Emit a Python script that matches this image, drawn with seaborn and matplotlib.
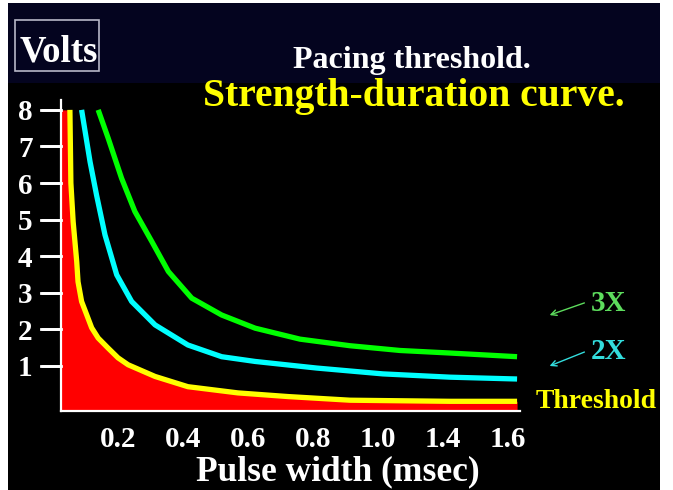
import numpy as np
import pandas as pd
import seaborn as sns
import matplotlib.pyplot as plt
from matplotlib.patches import Rectangle, FancyArrowPatch
from matplotlib.lines import Line2D
from matplotlib.transforms import blended_transform_factory

# strength-duration curves (pulse width on the chart's scale, volts)
threshold_x = [0.052, 0.055, 0.062, 0.073, 0.077, 0.088, 0.104, 0.119, 0.139, 0.169, 0.200, 0.231,
               0.314, 0.415, 0.569, 0.723, 0.914, 1.222, 1.428]
threshold_v = [8.0, 6.0, 4.94, 3.85, 3.30, 2.76, 2.39, 2.04, 1.76, 1.49, 1.22, 1.03,
               0.71, 0.43, 0.26, 0.16, 0.06, 0.03, 0.03]

twox_x = [0.088, 0.114, 0.134, 0.160, 0.196, 0.242, 0.314, 0.415, 0.519, 0.622, 0.811, 1.015, 1.222, 1.428]
twox_v = [8.0, 6.58, 5.67, 4.58, 3.49, 2.76, 2.12, 1.57, 1.25, 1.12, 0.94, 0.78, 0.69, 0.64]

threex_x = [0.139, 0.170, 0.211, 0.252, 0.304, 0.355, 0.427, 0.519, 0.622, 0.760, 0.914, 1.068, 1.222, 1.428]
threex_v = [8.0, 7.22, 6.13, 5.22, 4.40, 3.58, 2.85, 2.39, 2.03, 1.73, 1.55, 1.42, 1.35, 1.25]

x_ticks = [0.2, 0.4, 0.6, 0.8, 1.0, 1.2, 1.4]
x_labels = ['0.2', '0.4', '0.6', '0.8', '1.0', '1.4', '1.6']
y_ticks = [1, 2, 3, 4, 5, 6, 7, 8]

plt.rcParams['font.family'] = ['Liberation Serif', 'DejaVu Serif']
plt.rcParams['font.weight'] = 'bold'

W, H = 673, 490
def fx(px):
    return px / W
def fy(py):
    return 1 - py / H

fig = plt.figure(figsize=(W / 100, H / 100), dpi=100)
fig.patch.set_facecolor('white')

# slide background: black body, navy title band
fig.add_artist(Rectangle((fx(8), 0), fx(660) - fx(8), fy(3), transform=fig.transFigure,
                         facecolor='black', edgecolor='none', zorder=-2))
fig.add_artist(Rectangle((fx(8), fy(83)), fx(660) - fx(8), 80 / H, transform=fig.transFigure,
                         facecolor='#04041f', edgecolor='none', zorder=-1))

ax = fig.add_axes([fx(61), fy(411), fx(520) - fx(61), (411 - 100) / H])
ax.set_facecolor('none')

xmin, xmax = 0.0246, 1.437
ymin, ymax = -0.235, 8.27

# red area under the threshold curve
ax.fill_between([xmin] + threshold_x, [8.0] + threshold_v, ymin, color='#ff0000', lw=0, zorder=1)

curves = [
    (threshold_x, threshold_v, '#ffff00'),
    (twox_x, twox_v, '#00ffff'),
    (threex_x, threex_v, '#00ff00'),
]
for xs, vs, col in curves:
    df = pd.DataFrame({'pulse': xs, 'volts': vs})
    sns.lineplot(data=df, x='pulse', y='volts', ax=ax, color=col, lw=3.8,
                 sort=False, solid_capstyle='butt', zorder=2)

ax.set_xlim(xmin, xmax)
ax.set_ylim(ymin, ymax)
ax.set_xlabel('')
ax.set_ylabel('')

for s in ['top', 'right']:
    ax.spines[s].set_visible(False)
for s in ['left', 'bottom']:
    ax.spines[s].set_color('white')
    ax.spines[s].set_linewidth(1.6)

ax.set_xticks(x_ticks)
ax.set_xticklabels(x_labels)
ax.set_yticks(y_ticks)
ax.tick_params(axis='x', length=0, pad=11, labelsize=21, labelcolor='white')
ax.tick_params(axis='y', length=14.5, width=2, color='white', direction='out',
               pad=6, labelsize=21, labelcolor='white')

# y tick dashes as figure-level lines, placed by the axis' data transform
tick_tr = blended_transform_factory(fig.transFigure, ax.transData)
for v in y_ticks:
    fig.add_artist(Line2D([fx(41), fx(61)], [v, v], transform=tick_tr, color='white',
                          lw=2, zorder=5))

# titles and labels
fig.add_artist(Rectangle((fx(15), fy(71)), (99 - 15) / W, (71 - 20) / H, transform=fig.transFigure,
                         fill=False, edgecolor='#b8b8c8', lw=1.2))
fig.text(fx(59), fy(62), 'Volts', ha='center', va='baseline', size=26.5, color='white')
fig.text(fx(412), fy(68), 'Pacing threshold.', ha='center', va='baseline', size=23, color='white')
fig.text(fx(414), fy(106), 'Strength-duration curve.', ha='center', va='baseline', size=28.5, color='#ffff00')
fig.text(fx(338), fy(480), 'Pulse width (msec)', ha='center', va='baseline', size=25.5, color='white')

# curve labels with arrows
fig.text(fx(609), fy(311), '3X', ha='center', va='baseline', size=21, color='#5ddc5d')
fig.text(fx(609), fy(359), '2X', ha='center', va='baseline', size=21, color='#33dddd')
fig.text(fx(596), fy(408), 'Threshold', ha='center', va='baseline', size=20, color='#ffff00')
for (x0, y0), (x1, y1), col in [((587, 302), (547, 316), '#5ddc5d'), ((587, 351), (547, 367), '#33dddd')]:
    fig.add_artist(FancyArrowPatch((fx(x0), fy(y0)), (fx(x1), fy(y1)), transform=fig.transFigure,
                                   arrowstyle='->,head_length=4,head_width=2', color=col, lw=1))

fig.savefig('out.png', dpi=100, facecolor=fig.get_facecolor())
